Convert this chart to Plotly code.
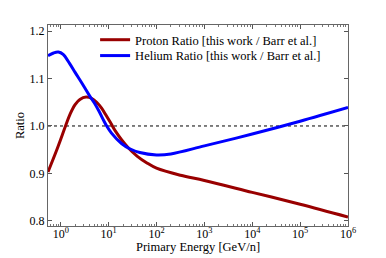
import plotly.graph_objects as go

# Data (x = log10 of primary energy in GeV/n)
proton_logE = [-0.266, -0.1, 0.0, 0.1, 0.2, 0.3, 0.4, 0.53, 0.65, 0.75, 0.85, 0.95, 1.05,
               1.15, 1.27, 1.41, 1.6, 1.8, 2.0, 2.5, 3.0, 4.0, 5.0, 6.0]
proton_ratio = [0.903, 0.945, 0.972, 1.000, 1.026, 1.045, 1.056, 1.061, 1.058, 1.050,
                1.038, 1.022, 1.005, 0.988, 0.971, 0.954, 0.936, 0.922, 0.911,
                0.896, 0.885, 0.860, 0.835, 0.808]

helium_logE = [-0.266, -0.15, -0.05, 0.05, 0.19, 0.3, 0.45, 0.6, 0.7, 0.8, 0.9, 0.96,
               1.06, 1.27, 1.44, 1.65, 2.0, 2.3, 3.0, 4.0, 5.0, 6.0]
helium_ratio = [1.148, 1.154, 1.156, 1.151, 1.131, 1.113, 1.089, 1.064, 1.049, 1.031,
                1.011, 1.000, 0.985, 0.963, 0.952, 0.944, 0.939, 0.941, 0.958, 0.983,
                1.010, 1.039]

x_tick_exps = [0, 1, 2, 3, 4, 5, 6]
y_ticks = [0.8, 0.9, 1.0, 1.1, 1.2]

proton_E = [10 ** v for v in proton_logE]
helium_E = [10 ** v for v in helium_logE]

FONT = "Liberation Serif"

fig = go.Figure()
fig.add_trace(go.Scatter(x=proton_E, y=proton_ratio, mode="lines",
                         line=dict(color="#990000", width=3, shape="spline", smoothing=1.0),
                         name="Proton Ratio [this work / Barr et al.]", legend="legend"))
fig.add_trace(go.Scatter(x=helium_E, y=helium_ratio, mode="lines",
                         line=dict(color="#0000ff", width=3, shape="spline", smoothing=1.0),
                         name="Helium Ratio [this work / Barr et al.]", legend="legend2"))
fig.add_hline(y=1.0, line=dict(color="black", width=1, dash="dot"), layer="below")

leg_common = dict(x=0.157, xanchor="left", yanchor="middle",
                  bgcolor="rgba(0,0,0,0)", font=dict(size=12.5), itemwidth=30)

fig.update_layout(
    width=378, height=250,
    margin=dict(l=40, r=38, t=17, b=32, autoexpand=False),
    paper_bgcolor="white", plot_bgcolor="white",
    font=dict(family=FONT, size=12, color="black"),
    showlegend=True,
    legend=dict(y=0.925, **leg_common),
    legend2=dict(y=0.846, **leg_common),
    annotations=[dict(text="Primary Energy [GeV/n]", xref="paper", yref="paper",
                      x=0.5, y=-0.104, xanchor="center", yanchor="middle",
                      showarrow=False, font=dict(size=12.5))],
)
fig.update_xaxes(
    type="log", range=[-0.266, 6.0], automargin=False,
    tickvals=[10 ** e for e in x_tick_exps],
    ticktext=[f"10<sup>{e}</sup>" for e in x_tick_exps],
    ticks="inside", ticklen=4, tickcolor="#555", ticklabelstandoff=-3,
    minor=dict(dtick="D1", ticks="inside", ticklen=2, tickcolor="#777"),
    showline=True, linecolor="#666", linewidth=1, mirror="ticks",
    showgrid=False, zeroline=False,
    tickfont=dict(size=12),
)
fig.update_yaxes(
    range=[0.789, 1.213], automargin=False,
    tickvals=y_ticks, ticktext=[f"{v:.1f}" for v in y_ticks],
    ticks="inside", ticklen=4, tickcolor="#555",
    showline=True, linecolor="#666", linewidth=1, mirror="ticks",
    showgrid=False, zeroline=False,
    title=dict(text="Ratio", standoff=2, font=dict(size=12.5)),
    tickfont=dict(size=12),
)

fig.write_html("out.html")
